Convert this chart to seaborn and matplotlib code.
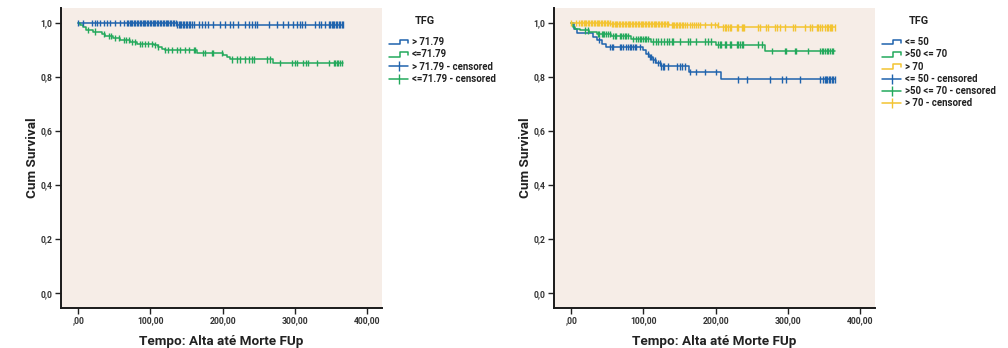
import numpy as np
import pandas as pd
import matplotlib
matplotlib.use("Agg")
import matplotlib.pyplot as plt
import seaborn as sns
from matplotlib.lines import Line2D
from matplotlib.legend_handler import HandlerBase

# ---------------- data ----------------
# Left panel: TFG split at 71.79
L_hi_t = [0, 137, 367]
L_hi_s = [1.0, 0.993, 0.993]
L_lo_t = [0, 3, 6, 10, 20, 33, 37, 48, 58, 72, 82, 105, 110, 116, 120, 165, 201, 206, 210, 270, 367]
L_lo_s = [1.0, 0.99, 0.982, 0.974, 0.967, 0.958, 0.95, 0.943, 0.936, 0.929, 0.922, 0.916, 0.91,
          0.904, 0.899, 0.889, 0.882, 0.874, 0.864, 0.85, 0.85]
L_hi_cens = [0, 7, 19, 23, 26, 30, 35, 40, 44, 51, 58, 63, 67, 69, 71, 73, 75, 77, 79, 81, 83, 85,
             87, 89, 91, 93, 95, 97, 99, 101, 103, 105, 107, 109, 111, 113, 115, 117, 119, 121, 123,
             125, 127, 129, 131, 133, 135, 137, 139, 141, 143, 145, 147, 149, 151, 153, 155, 157,
             160, 167, 171, 176, 180, 187, 197, 204, 210, 215, 222, 231, 236, 241, 245, 248, 264,
             275, 284, 291, 298, 303, 307, 310, 314, 328, 333, 337, 342, 347, 349, 351, 353, 355,
             357, 359, 361, 363, 365, 367]
L_lo_cens = [14, 23, 35, 42, 46, 51, 56, 63, 66, 70, 74, 79, 86, 88, 93, 97, 102, 107, 111, 120,
             125, 130, 137, 141, 148, 153, 160, 162, 173, 176, 185, 187, 199, 213, 220, 224, 231,
             236, 241, 243, 261, 266, 279, 296, 301, 303, 312, 316, 319, 331, 347, 354, 356, 358,
             360, 363, 365]
L_labels = ["> 71.79", "<=71.79"]

# Right panel: TFG in three classes
R_a_t = [0, 4, 8, 30, 36, 42, 48, 99, 103, 108, 113, 118, 124, 163, 207, 365]
R_a_s = [1.0, 0.978, 0.96, 0.947, 0.935, 0.922, 0.91, 0.898, 0.885, 0.873, 0.862, 0.851, 0.838,
         0.817, 0.79, 0.79]
R_b_t = [0, 2, 5, 12, 25, 36, 55, 83, 110, 201, 268, 365]
R_b_s = [1.0, 0.985, 0.977, 0.971, 0.965, 0.959, 0.95, 0.94, 0.93, 0.919, 0.894, 0.894]
R_c_t = [0, 54, 136, 204, 365]
R_c_s = [1.0, 0.994, 0.99, 0.982, 0.982]
R_a_cens = [39, 53, 56, 58, 67, 69, 72, 76, 79, 81, 83, 86, 88, 90, 95, 106, 109, 111, 113, 116,
            120, 123, 125, 127, 129, 134, 146, 150, 153, 157, 164, 173, 185, 201, 231, 244, 276,
            292, 298, 317, 345, 349, 351, 353, 355, 357, 359, 361, 363, 365]
R_b_cens = [19, 23, 37, 39, 42, 44, 46, 48, 51, 53, 58, 60, 62, 67, 69, 72, 74, 76, 78, 86, 90,
            92, 95, 97, 99, 102, 104, 106, 113, 118, 120, 125, 129, 132, 136, 139, 141, 150, 162,
            164, 173, 185, 190, 194, 203, 206, 208, 213, 215, 220, 222, 229, 231, 234, 236, 238,
            259, 264, 278, 296, 298, 310, 312, 328, 345, 347, 349, 352, 354, 356, 358, 361, 363]
R_c_cens = [0, 7, 11, 13, 15, 17, 19, 21, 23, 25, 27, 29, 31, 33, 35, 37, 39, 41, 43, 45, 47, 49,
            51, 53, 56, 58, 60, 62, 64, 66, 68, 70, 72, 74, 76, 78, 80, 82, 84, 86, 88, 90, 92, 94,
            96, 98, 100, 102, 104, 106, 108, 110, 112, 114, 116, 118, 120, 122, 124, 126, 128, 130,
            132, 134, 139, 141, 143, 145, 147, 149, 151, 153, 155, 158, 161, 164, 167, 170, 173,
            176, 178, 185, 194, 199, 203, 210, 213, 215, 217, 220, 222, 229, 231, 236, 238, 240,
            259, 261, 270, 273, 282, 285, 289, 296, 307, 310, 324, 331, 333, 340, 342, 345, 347,
            352, 354, 356, 358, 360, 362, 365]
R_labels = ["<= 50", ">50 <= 70", "> 70"]

x_ticks = [0, 100, 200, 300, 400]
x_ticklabels = [",00", "100,00", "200,00", "300,00", "400,00"]
y_ticks = [0.0, 0.2, 0.4, 0.6, 0.8, 1.0]
y_ticklabels = ["0,0", "0,2", "0,4", "0,6", "0,8", "1,0"]

BLUE = "#1f63ad"
GREEN = "#23a95c"
YELLOW = "#f3c431"
BG = "#f6ede7"

# ---------------- style ----------------
sns.set_style("ticks")
plt.rcParams["font.family"] = ["Roboto", "DejaVu Sans"]
plt.rcParams["font.weight"] = "bold"

fig = plt.figure(figsize=(10.08, 3.48), dpi=100)
fig.patch.set_facecolor("white")


def build_frames(curves):
    rows, cens = [], []
    for lab, t, s, c in curves:
        for ti, si in zip(t, s):
            rows.append({"t": ti, "s": si, "g": lab})
        tt = np.asarray(t); ss = np.asarray(s)
        for ci in c:
            idx = np.searchsorted(tt, ci, side="right") - 1
            cens.append({"t": ci, "s": ss[idx], "g": lab})
    return pd.DataFrame(rows), pd.DataFrame(cens)


class HandlerStep(HandlerBase):
    def create_artists(self, legend, orig_handle, xdescent, ydescent, width, height, fontsize, trans):
        x0 = -xdescent
        y0 = -ydescent
        xs = [x0, x0 + width * 0.55, x0 + width * 0.55, x0 + width, x0 + width]
        ys = [y0 + 0.1 * height, y0 + 0.1 * height, y0 + 0.8 * height, y0 + 0.8 * height, y0 + 0.35 * height]
        ln = Line2D(xs, ys, color=orig_handle.get_color(), lw=1.1, transform=trans)
        return [ln]


def style_ax(ax):
    ax.set_facecolor(BG)
    ax.set_xlim(-24, 421)
    ax.set_ylim(-0.054, 1.054)
    ax.set_xticks(x_ticks)
    ax.set_xticklabels(x_ticklabels)
    ax.set_yticks(y_ticks)
    ax.set_yticklabels(y_ticklabels)
    ax.tick_params(axis="both", labelsize=6.2, length=4, width=1.0, color="#222222",
                   labelcolor="#333333", pad=2)
    for lab in ax.get_xticklabels() + ax.get_yticklabels():
        lab.set_fontweight("bold")
    sns.despine(ax=ax, top=True, right=True)
    for sp in ["left", "bottom"]:
        ax.spines[sp].set_linewidth(1.4)
        ax.spines[sp].set_color("#1a1a1a")
    ax.set_xlabel("Tempo: Alta até Morte FUp", fontsize=9.7, fontweight="bold", color="#222222", labelpad=7)
    ax.set_ylabel("Cum Survival", fontsize=9.7, fontweight="bold", color="#222222", labelpad=1)


def draw_panel(ax, curves, palette, labels, legend_x, legend_title_x):
    df, dc = build_frames(curves)
    sns.lineplot(data=df, x="t", y="s", hue="g", palette=palette, hue_order=labels,
                 drawstyle="steps-post", linewidth=1.1, legend=False, ax=ax, estimator=None,
                 sort=True)
    sns.scatterplot(data=dc, x="t", y="s", hue="g", palette=palette, hue_order=labels,
                    marker="|", s=20, linewidth=1.0, legend=False, ax=ax, zorder=3)
    handles = [Line2D([], [], color=c) for c in palette] + \
              [Line2D([], [], color=c, marker="|", markersize=7, mew=1.0, lw=1.1) for c in palette]
    hmap = {h: HandlerStep() for h in handles[:len(palette)]}
    leg_labels = list(labels) + [f"{l} - censored" for l in labels]
    leg = ax.legend(handles, leg_labels, handler_map=hmap, loc="upper left",
                    bbox_to_anchor=(legend_x / 1008, 1 - 37 / 348), bbox_transform=fig.transFigure,
                    frameon=False, fontsize=6.9, handlelength=2.0, handletextpad=0.35,
                    labelspacing=0.24, borderaxespad=0, borderpad=0, numpoints=1)
    for t in leg.get_texts():
        t.set_fontweight("bold")
        t.set_color("#222222")
    fig.text(legend_title_x / 1008, 1 - 21 / 348, "TFG", fontsize=7.8, fontweight="bold",
             color="#222222", va="center", ha="left")


ax1 = fig.add_axes([61 / 1008, 40 / 348, (382 - 61) / 1008, (308 - 8) / 348])
ax2 = fig.add_axes([554 / 1008, 40 / 348, (875 - 554) / 1008, (308 - 8) / 348])

draw_panel(ax1,
           [(L_labels[0], L_hi_t, L_hi_s, L_hi_cens), (L_labels[1], L_lo_t, L_lo_s, L_lo_cens)],
           [BLUE, GREEN], L_labels, 389, 415)
draw_panel(ax2,
           [(R_labels[0], R_a_t, R_a_s, R_a_cens), (R_labels[1], R_b_t, R_b_s, R_b_cens),
            (R_labels[2], R_c_t, R_c_s, R_c_cens)],
           [BLUE, GREEN, YELLOW], R_labels, 882, 909)

style_ax(ax1)
style_ax(ax2)

fig.savefig("out.png", dpi=100, facecolor="white")
